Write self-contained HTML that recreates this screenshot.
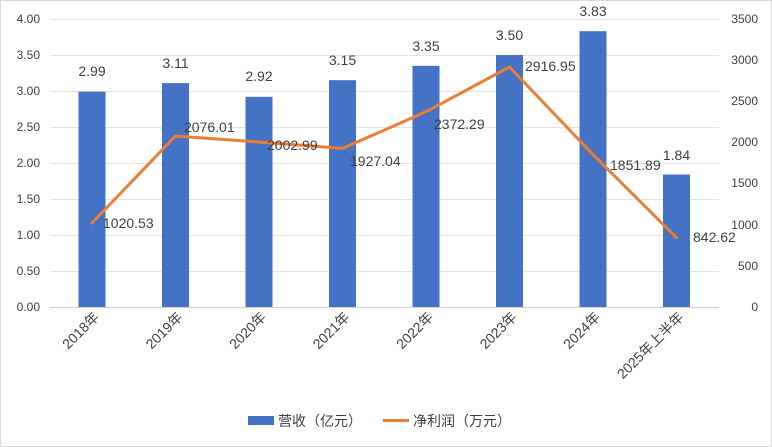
<!DOCTYPE html><html><head><meta charset="utf-8"><style>body{margin:0;background:#fff}svg{display:block}text{font-family:"Liberation Sans","Noto Sans CJK SC",sans-serif;fill:#404040}</style></head><body>
<svg width="772" height="447" viewBox="0 0 772 447">
<rect x="0.5" y="0.5" width="771" height="446" fill="#fff" stroke="#d9d9d9"/>
<g stroke="#e3e3e3" stroke-width="1">
<line x1="50" x2="719" y1="19.5" y2="19.5"/><line x1="50" x2="719" y1="55.5" y2="55.5"/><line x1="50" x2="719" y1="91.5" y2="91.5"/><line x1="50" x2="719" y1="127.5" y2="127.5"/><line x1="50" x2="719" y1="163.5" y2="163.5"/><line x1="50" x2="719" y1="199.5" y2="199.5"/><line x1="50" x2="719" y1="235.5" y2="235.5"/><line x1="50" x2="719" y1="271.5" y2="271.5"/>
</g>
<line x1="50" x2="719" y1="307.5" y2="307.5" stroke="#d0d0d0"/>
<g font-size="12" text-anchor="end">
<text x="40" y="23">4.00</text><text x="40" y="59">3.50</text><text x="40" y="95">3.00</text><text x="40" y="131">2.50</text><text x="40" y="167">2.00</text><text x="40" y="203">1.50</text><text x="40" y="239">1.00</text><text x="40" y="275">0.50</text><text x="40" y="311">0.00</text>
</g>
<g font-size="12" text-anchor="end">
<text x="758" y="23">3500</text><text x="758" y="64">3000</text><text x="758" y="105">2500</text><text x="758" y="146">2000</text><text x="758" y="187">1500</text><text x="758" y="229">1000</text><text x="758" y="270">500</text><text x="758" y="311">0</text>
</g>
<g fill="#4472c4">
<rect x="78.5" y="91.7" width="27" height="215.3"/>
<rect x="162" y="83.1" width="27" height="223.9"/>
<rect x="245.5" y="96.8" width="27" height="210.2"/>
<rect x="329" y="80.2" width="27" height="226.8"/>
<rect x="412.5" y="65.8" width="27" height="241.2"/>
<rect x="496" y="55" width="27" height="252"/>
<rect x="579.5" y="31.2" width="27" height="275.8"/>
<rect x="663" y="174.5" width="27" height="132.5"/>
</g>
<g font-size="14" text-anchor="middle">
<text x="92" y="76">2.99</text><text x="175.5" y="68">3.11</text><text x="259" y="81">2.92</text><text x="342.5" y="65">3.15</text><text x="426" y="51">3.35</text><text x="509.5" y="40">3.50</text><text x="593" y="16">3.83</text><text x="676.5" y="160">1.84</text>
</g>
<polyline fill="none" stroke="#ed7d31" stroke-width="3" stroke-linejoin="round" stroke-linecap="round" points="92,223 175.5,136 259,142 342.5,148.4 426,111.8 509.5,67 593,154.6 676.5,237.7"/>
<g font-size="14">
<text x="103" y="228">1020.53</text><text x="184" y="132">2076.01</text><text x="267" y="150">2002.99</text><text x="350" y="166">1927.04</text><text x="434" y="129">2372.29</text><text x="525" y="71">2916.95</text><text x="610" y="170">1851.89</text><text x="693" y="242">842.62</text>
</g>
<g font-size="14" text-anchor="end">
<text transform="translate(100,318) rotate(-45)">2018年</text>
<text transform="translate(183.5,318) rotate(-45)">2019年</text>
<text transform="translate(267,318) rotate(-45)">2020年</text>
<text transform="translate(350.5,318) rotate(-45)">2021年</text>
<text transform="translate(434,318) rotate(-45)">2022年</text>
<text transform="translate(517.5,318) rotate(-45)">2023年</text>
<text transform="translate(601,318) rotate(-45)">2024年</text>
<text transform="translate(684.5,318) rotate(-45)">2025年上半年</text>
</g>
<rect x="248" y="416" width="26" height="9" fill="#4472c4"/>
<text x="278" y="426" font-size="14">营收（亿元）</text>
<line x1="383" x2="409" y1="420.5" y2="420.5" stroke="#ed7d31" stroke-width="3"/>
<text x="413" y="426" font-size="14">净利润（万元）</text>
</svg></body></html>
